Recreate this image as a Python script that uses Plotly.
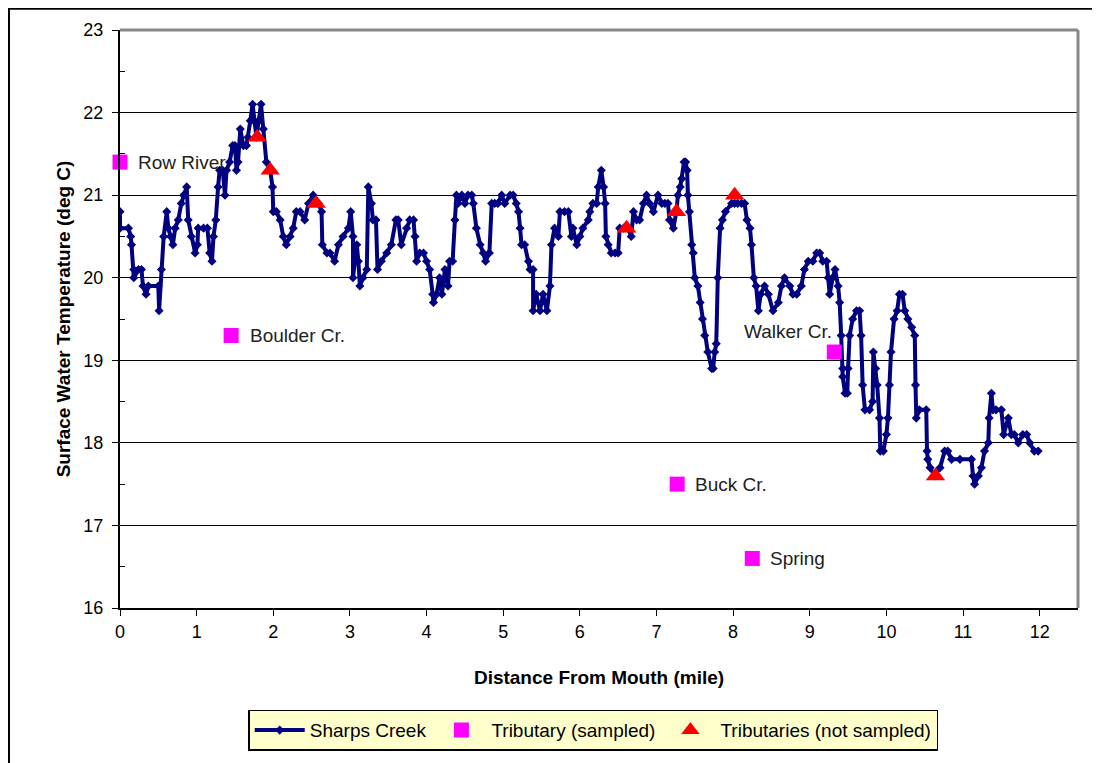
import plotly.graph_objects as go

# Sharps Creek longitudinal temperature profile
creek_mile = [
    0, 0, 0.11, 0.14, 0.15, 0.18, 0.18, 0.24, 0.28, 0.30, 0.34, 0.37, 0.50, 0.51, 0.54, 0.57,
    0.61, 0.63, 0.66, 0.69, 0.72, 0.76, 0.80, 0.83, 0.87, 0.89, 0.93, 0.98, 1.01, 1.02, 1.09,
    1.14, 1.17, 1.20, 1.22, 1.25, 1.28, 1.30, 1.34, 1.37, 1.39, 1.43, 1.47, 1.50, 1.52, 1.54,
    1.57, 1.61, 1.65, 1.67, 1.70, 1.73, 1.75, 1.78, 1.81, 1.84, 1.87, 1.91, 1.96, 1.99, 2.00,
    2.04, 2.09, 2.13, 2.17, 2.22, 2.26, 2.30, 2.35, 2.41, 2.46, 2.52, 2.59, 2.63, 2.64, 2.70,
    2.74, 2.80, 2.85, 2.91, 2.98, 3.01, 3.04, 3.04, 3.09, 3.11, 3.13, 3.17, 3.22, 3.24, 3.28,
    3.30, 3.34, 3.36, 3.41, 3.48, 3.54, 3.60, 3.63, 3.67, 3.74, 3.78, 3.83, 3.85, 3.87, 3.91,
    3.96, 4.00, 4.04, 4.08, 4.09, 4.13, 4.17, 4.20, 4.24, 4.26, 4.28, 4.30, 4.34, 4.37, 4.39,
    4.41, 4.46, 4.50, 4.54, 4.59, 4.61, 4.65, 4.70, 4.74, 4.77, 4.82, 4.85, 4.89, 4.93, 4.98,
    5.02, 5.09, 5.13, 5.17, 5.20, 5.22, 5.24, 5.28, 5.33, 5.35, 5.39, 5.39, 5.43, 5.48, 5.52,
    5.57, 5.61, 5.63, 5.67, 5.72, 5.74, 5.80, 5.85, 5.89, 5.91, 5.96, 6.00, 6.04, 6.11, 6.13,
    6.17, 6.22, 6.24, 6.28, 6.31, 6.33, 6.34, 6.37, 6.41, 6.46, 6.50, 6.52, 6.57, 6.63, 6.67,
    6.70, 6.74, 6.78, 6.83, 6.87, 6.91, 6.96, 7.02, 7.07, 7.11, 7.15, 7.17, 7.22, 7.26, 7.28,
    7.31, 7.33, 7.36, 7.38, 7.40, 7.41, 7.43, 7.46, 7.48, 7.50, 7.54, 7.57, 7.60, 7.63, 7.67,
    7.72, 7.74, 7.76, 7.78, 7.80, 7.83, 7.86, 7.90, 7.98, 8.02, 8.06, 8.11, 8.15, 8.18, 8.22,
    8.24, 8.27, 8.30, 8.33, 8.36, 8.41, 8.46, 8.52, 8.59, 8.63, 8.67, 8.74, 8.78, 8.83, 8.89,
    8.93, 8.98, 9.04, 9.09, 9.13, 9.17, 9.22, 9.24, 9.26, 9.30, 9.33, 9.37, 9.39, 9.41, 9.43,
    9.43, 9.46, 9.49, 9.50, 9.52, 9.56, 9.61, 9.65, 9.67, 9.69, 9.72, 9.78, 9.82, 9.83, 9.86,
    9.88, 9.91, 9.92, 9.96, 10.00, 10.02, 10.04, 10.06, 10.10, 10.14, 10.17, 10.21, 10.24,
    10.28, 10.33, 10.37, 10.38, 10.39, 10.43, 10.52, 10.53, 10.54, 10.57, 10.63, 10.70, 10.76,
    10.80, 10.85, 10.96, 11.11, 11.13, 11.15, 11.20, 11.24, 11.28, 11.33, 11.34, 11.37, 11.39,
    11.43, 11.50, 11.53, 11.59, 11.63, 11.67, 11.72, 11.78, 11.83, 11.87, 11.93, 11.98,
]
creek_temp = [
    20.8, 20.6, 20.6, 20.5, 20.4, 20.1, 20.0, 20.1, 20.1, 19.9, 19.8, 19.9, 19.9, 19.6, 20.1, 20.5,
    20.8, 20.6, 20.5, 20.4, 20.6, 20.7, 20.9, 21.0, 21.1, 20.7, 20.5, 20.3, 20.4, 20.6, 20.6,
    20.6, 20.3, 20.2, 20.5, 20.7, 21.1, 21.3, 21.3, 21.0, 21.3, 21.4, 21.6, 21.6, 21.3, 21.4,
    21.8, 21.6, 21.6, 21.7, 21.9, 22.1, 21.9, 21.7, 21.9, 22.1, 21.8, 21.4, 21.3, 21.1, 20.8,
    20.8, 20.7, 20.5, 20.4, 20.5, 20.6, 20.8, 20.8, 20.7, 20.9, 21.0, 20.9, 20.8, 20.4, 20.3,
    20.3, 20.2, 20.4, 20.5, 20.6, 20.8, 20.5, 20.0, 20.4, 20.2, 19.9, 20.0, 20.1, 21.1, 20.9,
    20.7, 20.7, 20.1, 20.2, 20.3, 20.4, 20.7, 20.7, 20.4, 20.6, 20.7, 20.7, 20.5, 20.2, 20.3,
    20.3, 20.2, 20.1, 19.8, 19.7, 19.8, 20.0, 19.8, 20.1, 20.0, 19.9, 20.2, 20.2, 20.7, 21.0,
    20.9, 21.0, 20.9, 21.0, 21.0, 20.9, 20.6, 20.4, 20.3, 20.2, 20.3, 20.9, 20.9, 20.9, 21.0,
    20.9, 21.0, 21.0, 20.9, 20.8, 20.6, 20.4, 20.4, 20.2, 20.1, 20.1, 19.6, 19.8, 19.6, 19.8,
    19.6, 19.9, 20.4, 20.6, 20.5, 20.8, 20.8, 20.8, 20.5, 20.6, 20.4, 20.5, 20.6, 20.7, 20.8,
    20.9, 20.9, 21.1, 21.3, 21.1, 20.9, 20.5, 20.4, 20.3, 20.3, 20.3, 20.6, 20.6, 20.6, 20.5,
    20.8, 20.7, 20.7, 20.9, 21.0, 20.9, 20.8, 21.0, 20.9, 20.9, 20.9, 20.7, 20.6, 20.8, 21.0,
    21.1, 21.2, 21.4, 21.4, 21.3, 21.0, 20.8, 20.4, 20.3, 20.0, 19.9, 19.7, 19.5, 19.3, 19.1,
    18.9, 18.9, 19.1, 19.2, 20.0, 20.6, 20.7, 20.8, 20.9, 20.9, 20.9, 20.9, 20.9, 20.7, 20.6,
    20.4, 20.0, 19.9, 19.6, 19.8, 19.9, 19.8, 19.6, 19.7, 19.9, 20.0, 19.9, 19.8, 19.8, 19.9,
    20.1, 20.2, 20.2, 20.3, 20.3, 20.2, 20.2, 20.0, 19.8, 20.0, 20.1, 19.9, 19.7, 19.3, 18.9,
    18.8, 18.6, 18.6, 18.9, 19.3, 19.5, 19.6, 19.6, 19.3, 18.7, 18.4, 18.4, 18.5, 19.1, 18.9,
    18.7, 18.3, 17.9, 17.9, 18.1, 18.3, 18.7, 19.1, 19.5, 19.6, 19.8, 19.8, 19.6,
    19.5, 19.4, 19.3, 18.7, 18.3, 18.4, 18.4, 17.9, 17.8, 17.7, 17.6, 17.7, 17.9,
    17.9, 17.8, 17.8, 17.8, 17.6, 17.5, 17.6, 17.7, 17.9, 18.0, 18.3, 18.6, 18.4,
    18.4, 18.4, 18.1, 18.3, 18.1, 18.1, 18.0, 18.1, 18.1, 18.0, 17.9, 17.9,
]

# sampled tributaries
trib_names = ["Row River", "Boulder Cr.", "Buck Cr.", "Spring", "Walker Cr."]
trib_mile = [0.0, 1.45, 7.27, 8.25, 9.32]
trib_temp = [21.4, 19.3, 17.5, 16.6, 19.1]

# tributaries not sampled
ns_mile = [1.79, 1.96, 2.56, 6.61, 7.26, 8.02, 10.64]
ns_temp = [21.7, 21.3, 20.9, 20.6, 20.8, 21.0, 17.6]

font = "Liberation Sans, Arial, sans-serif"

fig = go.Figure()
fig.add_trace(go.Scatter(x=creek_mile, y=creek_temp, mode="lines+markers", name="Sharps Creek",
                         line=dict(color="#000080", width=4),
                         marker=dict(symbol="diamond", size=7, color="#000080")))
fig.add_trace(go.Scatter(x=trib_mile, y=trib_temp, mode="markers", name="Tributary (sampled)",
                         cliponaxis=False,
                         marker=dict(symbol="square", size=15, color="#FF00FF")))
fig.add_trace(go.Scatter(x=ns_mile, y=ns_temp, mode="markers", name="Tributaries (not sampled)",
                         cliponaxis=False,
                         marker=dict(symbol="triangle-up", size=17, color="#FF0000")))

# labels next to the sampled tributaries
label_pos = {
    "Row River": (0.21, 21.4, "left"),
    "Boulder Cr.": (1.67, 19.3, "left"),
    "Buck Cr.": (7.48, 17.5, "left"),
    "Spring": (8.46, 16.6, "left"),
    "Walker Cr.": (9.32, 19.35, "right"),
}
for name in trib_names:
    lx, ly, anc = label_pos[name]
    fig.add_annotation(x=lx, y=ly, text=name, showarrow=False, xanchor=anc,
                       font=dict(family=font, size=19, color="#222222"))

fig.update_layout(
    width=1092, height=755,
    margin=dict(l=112, r=22, t=22, b=148),
    paper_bgcolor="white", plot_bgcolor="white",
    font=dict(family=font, size=18, color="black"),
    showlegend=True,
    legend=dict(orientation="h", x=0.494, xanchor="center", y=-0.176, yanchor="top",
                bgcolor="#FFFFCC", bordercolor="black", borderwidth=1.5,
                font=dict(family=font, size=19, color="black"), itemwidth=50),
    xaxis=dict(range=[0, 12.5], tickmode="array", tickvals=list(range(13)),
               ticks="outside", ticklen=6, tickcolor="black", showgrid=False,
               showline=True, linecolor="black", linewidth=2, zeroline=False,
               tickfont=dict(size=18),
               title=dict(text="<b>Distance From Mouth (mile)</b>", font=dict(size=19), standoff=30)),
    yaxis=dict(range=[16, 23], tickmode="array", tickvals=list(range(16, 24)),
               ticks="outside", ticklen=6, tickcolor="black", ticklabelstandoff=5,
               showgrid=True, gridcolor="black", gridwidth=1,
               showline=True, linecolor="black", linewidth=2, zeroline=False,
               tickfont=dict(size=18),
               minor=dict(tickvals=[16.5 + i for i in range(7)], ticks="inside", ticklen=5, tickcolor="black"),
               title=dict(text="<b>Surface Water Temperature (deg C)</b>", font=dict(size=19), standoff=8)),
)

# gray frame on top and right of the plot area
fig.add_shape(type="line", xref="paper", yref="paper", x0=0, x1=1, y0=1, y1=1,
              line=dict(color="#888888", width=3))
fig.add_shape(type="line", xref="paper", yref="paper", x0=1, x1=1, y0=0, y1=1,
              line=dict(color="#888888", width=3))
# outer chart frame (left and top visible)
fig.add_shape(type="line", xref="paper", yref="paper", x0=-0.1164, x1=-0.1164, y0=-0.3, y1=1.06,
              line=dict(color="black", width=3))
fig.add_shape(type="line", xref="paper", yref="paper", x0=-0.12, x1=1.1, y0=1.0376, y1=1.0376,
              line=dict(color="black", width=3))

fig.write_html("out.html")
